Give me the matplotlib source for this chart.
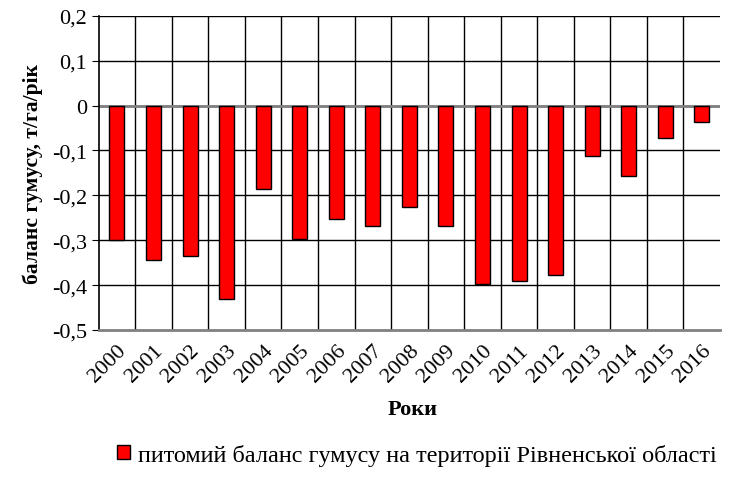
import numpy as np
import matplotlib.pyplot as plt
from matplotlib.ticker import FuncFormatter

plt.rcParams['font.family'] = 'serif'
plt.rcParams['font.serif'] = ['Liberation Serif', 'DejaVu Serif']

years = ['2000', '2001', '2002', '2003', '2004', '2005', '2006', '2007', '2008',
         '2009', '2010', '2011', '2012', '2013', '2014', '2015', '2016']
balance = [-0.30, -0.345, -0.335, -0.432, -0.187, -0.297, -0.253, -0.268, -0.227,
           -0.268, -0.398, -0.392, -0.378, -0.113, -0.156, -0.073, -0.036]

fig = plt.figure(figsize=(7.31, 4.81), dpi=100)
ax = fig.add_axes([0.135, 0.312, 0.85, 0.653])

x = np.arange(len(years))
ax.bar(x, balance, width=0.41, color='#ff0000', edgecolor='black', linewidth=1.0,
       zorder=3, label='питомий баланс гумусу на території Рівненської області')

ax.set_xlim(-0.5, len(years) - 0.5)
ax.set_ylim(-0.5, 0.2)
ax.set_yticks(np.arange(-0.5, 0.21, 0.1))


def fmt(v, p):
    v = round(v, 1) + 0.0
    if abs(v) < 1e-9:
        return '0'
    return ('%g' % v).replace('.', ',')


ax.yaxis.set_major_formatter(FuncFormatter(fmt))

# category separators as vertical grid
for b in np.arange(0.5, len(years) - 0.5, 1):
    ax.axvline(b, color='black', linewidth=1.0, zorder=1)
for yv in np.arange(-0.4, 0.21, 0.1):
    ax.axhline(yv, color='black', linewidth=1.0, zorder=1)
ax.axhline(0, color='#808080', linewidth=2.0, zorder=2)

ax.set_xticks(x)
ax.set_xticklabels(years, rotation=45, ha='right', rotation_mode='anchor', fontsize=16)
ax.tick_params(axis='x', length=0, pad=8)
ax.tick_params(axis='y', labelsize=16, length=5, direction='out')

for s in ['top', 'right']:
    ax.spines[s].set_visible(False)
ax.spines['bottom'].set_color('#808080')
ax.spines['bottom'].set_linewidth(2.0)
ax.spines['left'].set_color('black')
ax.spines['left'].set_linewidth(1.2)

ax.set_ylabel('баланс гумусу, т/га/рік', fontsize=15.5, fontweight='bold', labelpad=6)
fig.text(0.565, 0.148, 'Роки', fontsize=16, fontweight='bold', ha='center', va='center')

fig.legend(loc='center', bbox_to_anchor=(0.57, 0.053), frameon=False, fontsize=17.5,
           handlelength=0.55, handleheight=0.55, handletextpad=0.3)

fig.savefig('out.png', dpi=100)
